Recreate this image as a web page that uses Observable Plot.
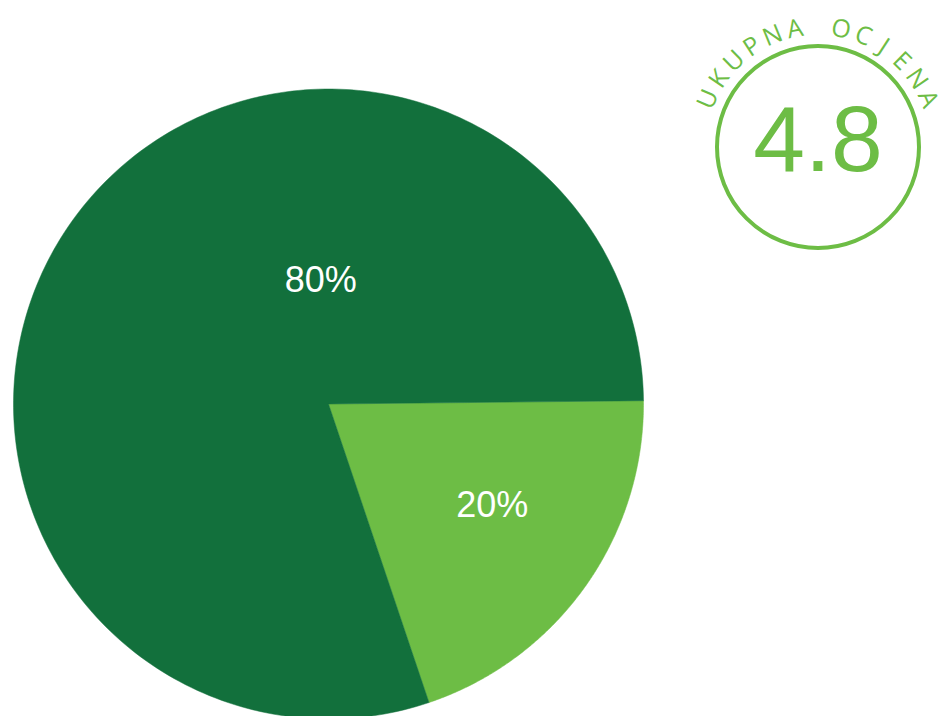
<!DOCTYPE html>
<html>
<head>
<meta charset="utf-8">
<script src="https://cdn.jsdelivr.net/npm/d3@7"></script>
<script src="https://cdn.jsdelivr.net/npm/@observablehq/plot@0.6"></script>
<style>
  html, body { margin: 0; padding: 0; background: #ffffff; }
  #chart svg { display: block; }
</style>
</head>
<body>
<div id="chart"></div>
<script>
// ---- data ----
const sliceLabels = ["20%", "80%"];
const sliceShares = [20, 80];
const ratingTitle = "UKUPNA OCJENA";
const ratingValue = "4.8";

// ---- style / layout ----
const sliceColors = ["#6dbd45", "#12703c"];
const badgeColor = "#6dbd45";
const W = 947, H = 716;
const R = 315;                 // pie radius in px (1 data unit)
const cx = 328, cy = 403.5;    // pie centre in px
const startAngle = 89.4;       // degrees clockwise from north
const labelPlacement = [       // [angle deg, radius in pie units]
  {angle: 121.8, radius: 0.612},
  {angle: -3.6, radius: 0.394}
];
const badge = {x: (817.5 - cx) / R, y: (cy - 146.5) / R, r: 101};

// pie geometry in data units
const total = d3.sum(sliceShares);
const piePts = [];
let a0 = startAngle;
sliceShares.forEach((v, i) => {
  const span = v / total * 360;
  piePts.push({x: 0, y: 0, k: sliceLabels[i]});
  const n = 240;
  for (let j = 0; j <= n; j++) {
    const a = (a0 + span * j / n) * Math.PI / 180;
    piePts.push({x: Math.sin(a), y: Math.cos(a), k: sliceLabels[i]});
  }
  piePts.push({x: 0, y: 0, k: sliceLabels[i]});
  a0 += span;
});

const labelPts = sliceLabels.map((t, i) => {
  const p = labelPlacement[i];
  const a = p.angle * Math.PI / 180;
  return {x: p.radius * Math.sin(a), y: p.radius * Math.cos(a), t};
});

// arc letters
const chars = [...ratingTitle];
const spread = 133;
const step = spread / (chars.length - 1);
const rr = 112 / R;
const letterPts = chars.map((c, i) => {
  const ang = -spread / 2 + i * step;
  const a = ang * Math.PI / 180;
  return {x: badge.x + rr * Math.sin(a), y: badge.y + rr * Math.cos(a), c, rot: ang};
});

const chart = Plot.plot({
  width: W,
  height: H,
  margin: 0,
  x: {domain: [-cx / R, (W - cx) / R], axis: null},
  y: {domain: [-(H - cy) / R, cy / R], axis: null},
  color: {domain: sliceLabels, range: sliceColors},
  style: {background: "#ffffff"},
  marks: [
    Plot.line(piePts, {x: "x", y: "y", z: "k", fill: "k", stroke: "k", strokeWidth: 0.5, curve: "linear"}),
    Plot.text(labelPts, {x: "x", y: "y", text: "t", fill: "#ffffff", fontSize: 36,
      fontFamily: "Liberation Sans, Arial, sans-serif", lineAnchor: "middle", textAnchor: "middle"}),
    Plot.dot([badge], {x: "x", y: "y", r: badge.r, stroke: badgeColor, strokeWidth: 4, fill: "none"}),
    Plot.text([{x: badge.x, y: (cy - 170) / R, t: ratingValue}], {x: "x", y: "y", text: "t",
      fill: badgeColor, fontSize: 93, fontFamily: "Liberation Sans, Arial, sans-serif",
      lineAnchor: "bottom", textAnchor: "middle"}),
    Plot.text(letterPts, {x: "x", y: "y", text: "c", rotate: "rot", fill: badgeColor,
      fontSize: 25, fontWeight: 400, fontFamily: "'Open Sans', sans-serif",
      lineAnchor: "bottom", textAnchor: "middle"})
  ]
});
document.getElementById("chart").appendChild(chart);
</script>
</body>
</html>
